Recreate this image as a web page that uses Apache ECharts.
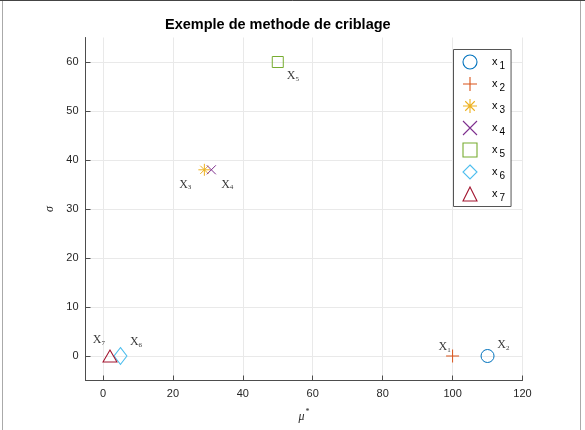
<!DOCTYPE html>
<html>
<head>
<meta charset="utf-8">
<script src="https://cdn.jsdelivr.net/npm/echarts@6/dist/echarts.min.js"></script>
<style>
  html, body { margin: 0; padding: 0; background: #fff; }
  #chart { width: 585px; height: 430px; }
</style>
</head>
<body>
<div id="chart"></div>
<script>
// points (mu*, sigma) for each factor
const names = ['x1', 'x2', 'x3', 'x4', 'x5', 'x6', 'x7'];
const muStar = [110, 100, 29, 31, 50, 5, 2];
const sigma = [0, 0, 38, 38, 60, 0, 0];

// text annotations placed in data coords
const labelTexts = ['X1', 'X2', 'X3', 'X4', 'X5', 'X6', 'X7'];
const labelX = [96, 112.8, 21.8, 33.8, 52.6, 7.7, -2.9];
const labelY = [1.8, 2.2, 35, 35, 57.2, 2.9, 3.3];

const xTicks = [0, 20, 40, 60, 80, 100, 120];
const yTicks = [0, 10, 20, 30, 40, 50, 60];

const colors = ['#0072BD', '#D95319', '#EDB120', '#7E2F8E', '#77AC30', '#4DBEEE', '#A2142F'];

// stroke-only glyphs drawn at size s so the path is not rescaled (keeps 1px lines)
function plusPath(s) {
  const h = s / 2;
  return `path://M0,${h}H${s}M${h},0V${s}`;
}
function crossPath(s) {
  return `path://M0,0L${s},${s}M${s},0L0,${s}`;
}
function starPath(s) {
  const h = s / 2, a = s * 0.16, b = s * 0.84;
  return `path://M0,${h}H${s}M${h},0V${s}M${a},${a}L${b},${b}M${b},${a}L${a},${b}`;
}

const sizes = [[13, 13], [13, 13], [12, 12], [9, 9], [11, 11], [13, 17], [14, 12]];
const markSymbols = ['circle', plusPath(13), starPath(12), crossPath(9), 'rect', 'diamond', 'triangle'];
const legendSymbols = ['circle', plusPath(14), starPath(14), crossPath(14), 'rect', 'diamond', 'triangle'];

const sans = 'Liberation Sans, Arial, sans-serif';
const serif = 'Liberation Serif, Times New Roman, serif';
const axisColor = '#4d4d4d';

const chart = echarts.init(document.getElementById('chart'), null, { renderer: 'canvas' });

const pointSeries = names.map((name, i) => ({
  type: 'scatter',
  name: name,
  data: [[muStar[i], sigma[i]]],
  symbol: markSymbols[i],
  symbolSize: sizes[i],
  itemStyle: { color: 'none', borderColor: colors[i], borderWidth: 1, opacity: 1 },
  emphasis: { disabled: true },
  z: 3
}));

const labelSeries = {
  type: 'scatter',
  name: 'labels',
  silent: true,
  symbolSize: 0,
  data: labelTexts.map((t, i) => ({ name: t, value: [labelX[i], labelY[i]] })),
  label: {
    show: true,
    position: 'right',
    distance: 0,
    formatter: (p) => '{a|X}{b|' + p.name.slice(1) + '}',
    rich: {
      a: { fontFamily: serif, fontSize: 12, color: '#000' },
      b: { fontFamily: serif, fontSize: 7, color: '#000', padding: [6, 0, 0, 0] }
    }
  },
  z: 4
};

chart.setOption({
  animation: false,
  backgroundColor: '#fff',
  title: {
    text: 'Exemple de methode de criblage',
    left: 165,
    top: 17,
    padding: 0,
    textStyle: { fontFamily: sans, fontSize: 14.5, fontWeight: 'bold', color: '#000' }
  },
  legend: {
    orient: 'vertical',
    left: 453.5,
    top: 49.5,
    width: 57,
    padding: [3, 6, 3, 7],
    itemWidth: 14,
    itemHeight: 14,
    itemGap: 3,
    backgroundColor: '#fff',
    borderColor: '#555',
    borderWidth: 1,
    borderRadius: 0,
    data: names.map((n, i) => ({
      name: n,
      icon: legendSymbols[i],
      itemStyle: { color: 'none', borderColor: colors[i], borderWidth: 1.1, opacity: 1 }
    })),
    formatter: (n) => '{a|x}{b|' + n.slice(1) + '}',
    textStyle: {
      rich: {
        a: { fontFamily: sans, fontSize: 11, color: '#000', padding: [0, 0, 0, 10] },
        b: { fontFamily: sans, fontSize: 10, color: '#000', padding: [9, 0, 0, 2] }
      }
    },
    selectedMode: false
  },
  grid: { left: 85.5, top: 37.5, right: 62.5, bottom: 49.5, containLabel: false },
  xAxis: {
    type: 'value',
    min: -5,
    max: 120,
    name: '{m|μ}{s|*}',
    nameLocation: 'middle',
    nameGap: 27,
    nameTextStyle: {
      rich: {
        m: { fontFamily: serif, fontStyle: 'italic', fontSize: 12, color: '#262626' },
        s: { fontFamily: serif, fontSize: 8, color: '#262626', padding: [0, 0, 10, 1] }
      }
    },
    axisLine: { show: true, onZero: false, lineStyle: { color: axisColor } },
    axisTick: { show: true, inside: true, length: 5, customValues: xTicks, lineStyle: { color: axisColor } },
    axisLabel: { customValues: xTicks, margin: 8, fontFamily: sans, fontSize: 11, color: '#262626' },
    splitLine: { show: true, lineStyle: { color: '#e9e9e9' } }
  },
  yAxis: {
    type: 'value',
    min: -5,
    max: 65,
    name: 'σ',
    nameLocation: 'middle',
    nameGap: 26,
    nameTextStyle: { fontFamily: serif, fontStyle: 'italic', fontSize: 12, color: '#262626' },
    axisLine: { show: true, onZero: false, lineStyle: { color: axisColor } },
    axisTick: { show: true, inside: true, length: 5, customValues: yTicks, lineStyle: { color: axisColor } },
    axisLabel: { customValues: yTicks, margin: 7, fontFamily: sans, fontSize: 11, color: '#262626' },
    splitLine: { show: true, lineStyle: { color: '#e9e9e9' } }
  },
  graphic: [
    { type: 'rect', shape: { x: 2.5, y: 0.5, width: 578, height: 440 }, style: { fill: 'none', stroke: '#aaa', lineWidth: 1 }, silent: true },
    { type: 'line', shape: { x1: 0, y1: 0.5, x2: 585, y2: 0.5 }, style: { stroke: '#444', lineWidth: 1 }, silent: true }
  ],
  series: pointSeries.concat([labelSeries])
});
</script>
</body>
</html>
